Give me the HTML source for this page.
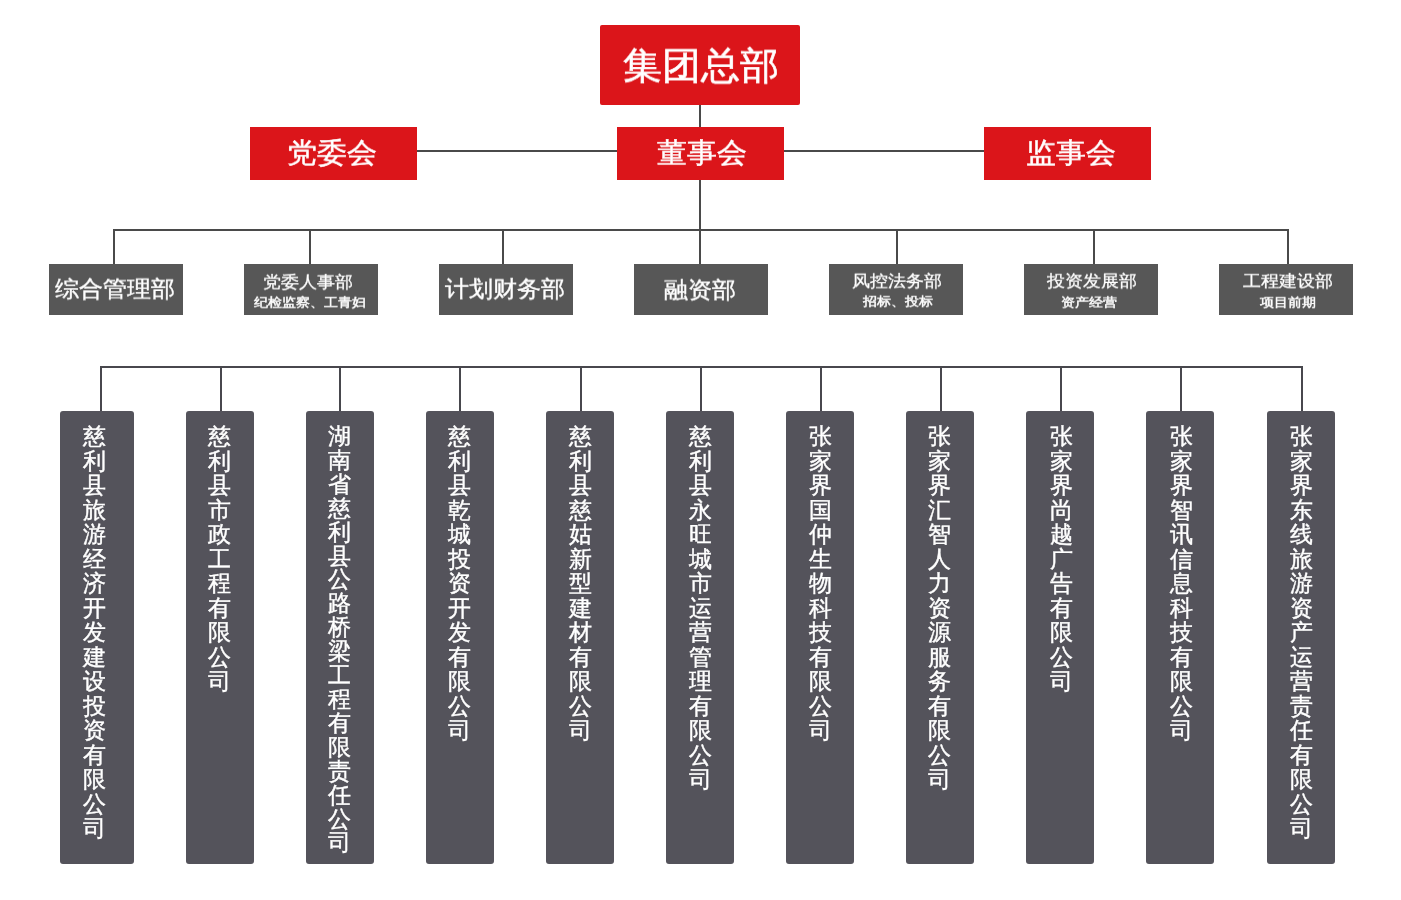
<!DOCTYPE html>
<html><head><meta charset="utf-8"><style>
html,body{margin:0;padding:0;background:#fff;width:1401px;height:900px;overflow:hidden}
body{position:relative;font-family:"Liberation Sans", sans-serif}
</style></head><body>
<div style="position:absolute;left:699px;top:105px;width:2px;height:22px;background:#4a4a4a;"></div>
<div style="position:absolute;left:417px;top:150px;width:200px;height:2px;background:#4a4a4a;"></div>
<div style="position:absolute;left:784px;top:150px;width:200px;height:2px;background:#4a4a4a;"></div>
<div style="position:absolute;left:699px;top:180px;width:2px;height:84px;background:#4a4a4a;"></div>
<div style="position:absolute;left:113px;top:229px;width:1176px;height:2px;background:#4a4a4a;"></div>
<div style="position:absolute;left:113px;top:229px;width:2px;height:35px;background:#4a4a4a;"></div>
<div style="position:absolute;left:309px;top:229px;width:2px;height:35px;background:#4a4a4a;"></div>
<div style="position:absolute;left:502px;top:229px;width:2px;height:35px;background:#4a4a4a;"></div>
<div style="position:absolute;left:896px;top:229px;width:2px;height:35px;background:#4a4a4a;"></div>
<div style="position:absolute;left:1093px;top:229px;width:2px;height:35px;background:#4a4a4a;"></div>
<div style="position:absolute;left:1287px;top:229px;width:2px;height:35px;background:#4a4a4a;"></div>
<div style="position:absolute;left:600px;top:25px;width:200px;height:80px;background:#db151a;border-radius:2px"></div>
<div style="position:absolute;left:250px;top:127px;width:167px;height:53px;background:#db151a;"></div>
<div style="position:absolute;left:617px;top:127px;width:167px;height:53px;background:#db151a;"></div>
<div style="position:absolute;left:984px;top:127px;width:167px;height:53px;background:#db151a;"></div>
<div style="position:absolute;left:49px;top:264px;width:134px;height:51px;background:#575757;"></div>
<div style="position:absolute;left:244px;top:264px;width:134px;height:51px;background:#575757;"></div>
<div style="position:absolute;left:439px;top:264px;width:134px;height:51px;background:#575757;"></div>
<div style="position:absolute;left:634px;top:264px;width:134px;height:51px;background:#575757;"></div>
<div style="position:absolute;left:829px;top:264px;width:134px;height:51px;background:#575757;"></div>
<div style="position:absolute;left:1024px;top:264px;width:134px;height:51px;background:#575757;"></div>
<div style="position:absolute;left:1219px;top:264px;width:134px;height:51px;background:#575757;"></div>
<div style="position:absolute;left:100px;top:366px;width:1203px;height:2px;background:#48474d;"></div>
<div style="position:absolute;left:100px;top:366px;width:2px;height:45px;background:#48474d;"></div>
<div style="position:absolute;left:60px;top:411px;width:74px;height:453px;background:#54535b;border-radius:3px"></div>
<div style="position:absolute;left:220px;top:366px;width:2px;height:45px;background:#48474d;"></div>
<div style="position:absolute;left:186px;top:411px;width:68px;height:453px;background:#54535b;border-radius:3px"></div>
<div style="position:absolute;left:339px;top:366px;width:2px;height:45px;background:#48474d;"></div>
<div style="position:absolute;left:306px;top:411px;width:68px;height:453px;background:#54535b;border-radius:3px"></div>
<div style="position:absolute;left:459px;top:366px;width:2px;height:45px;background:#48474d;"></div>
<div style="position:absolute;left:426px;top:411px;width:68px;height:453px;background:#54535b;border-radius:3px"></div>
<div style="position:absolute;left:580px;top:366px;width:2px;height:45px;background:#48474d;"></div>
<div style="position:absolute;left:546px;top:411px;width:68px;height:453px;background:#54535b;border-radius:3px"></div>
<div style="position:absolute;left:700px;top:366px;width:2px;height:45px;background:#48474d;"></div>
<div style="position:absolute;left:666px;top:411px;width:68px;height:453px;background:#54535b;border-radius:3px"></div>
<div style="position:absolute;left:820px;top:366px;width:2px;height:45px;background:#48474d;"></div>
<div style="position:absolute;left:786px;top:411px;width:68px;height:453px;background:#54535b;border-radius:3px"></div>
<div style="position:absolute;left:940px;top:366px;width:2px;height:45px;background:#48474d;"></div>
<div style="position:absolute;left:906px;top:411px;width:68px;height:453px;background:#54535b;border-radius:3px"></div>
<div style="position:absolute;left:1060px;top:366px;width:2px;height:45px;background:#48474d;"></div>
<div style="position:absolute;left:1026px;top:411px;width:68px;height:453px;background:#54535b;border-radius:3px"></div>
<div style="position:absolute;left:1180px;top:366px;width:2px;height:45px;background:#48474d;"></div>
<div style="position:absolute;left:1146px;top:411px;width:68px;height:453px;background:#54535b;border-radius:3px"></div>
<div style="position:absolute;left:1301px;top:366px;width:2px;height:45px;background:#48474d;"></div>
<div style="position:absolute;left:1267px;top:411px;width:68px;height:453px;background:#54535b;border-radius:3px"></div>
<div style="position:absolute;left:500.78px;top:46.11px;width:400px;height:39.16326516112928px;text-align:center;font-size:39.16px;line-height:39.16px;font-weight:normal;color:#fff;white-space:nowrap;-webkit-text-stroke:0.65px #fff;transform:scaleY(0.9672);transform-origin:50% 50%;will-change:transform">集团总部</div>
<div style="position:absolute;left:131.96px;top:138.16px;width:400px;height:29.5px;text-align:center;font-size:29.50px;line-height:29.50px;font-weight:normal;color:#fff;white-space:nowrap;-webkit-text-stroke:0.50px #fff;transform:scaleY(0.9300);transform-origin:50% 50%;will-change:transform">党委会</div>
<div style="position:absolute;left:501.80px;top:138.15px;width:400px;height:29.5px;text-align:center;font-size:29.50px;line-height:29.50px;font-weight:normal;color:#fff;white-space:nowrap;-webkit-text-stroke:0.50px #fff;transform:scaleY(0.9300);transform-origin:50% 50%;will-change:transform">董事会</div>
<div style="position:absolute;left:870.59px;top:137.96px;width:400px;height:29.5px;text-align:center;font-size:29.50px;line-height:29.50px;font-weight:normal;color:#fff;white-space:nowrap;-webkit-text-stroke:0.50px #fff;transform:scaleY(0.9300);transform-origin:50% 50%;will-change:transform">监事会</div>
<div style="position:absolute;left:-84.65px;top:277.85px;width:400px;height:23.7px;text-align:center;font-size:23.70px;line-height:23.70px;font-weight:normal;color:#fff;white-space:nowrap;-webkit-text-stroke:0.40px #fff;transform:scaleY(0.9500);transform-origin:50% 50%;will-change:transform">综合管理部</div>
<div style="position:absolute;left:304.50px;top:278.26px;width:400px;height:23.7px;text-align:center;font-size:23.70px;line-height:23.70px;font-weight:normal;color:#fff;white-space:nowrap;-webkit-text-stroke:0.40px #fff;transform:scaleY(0.9500);transform-origin:50% 50%;will-change:transform">计划财务部</div>
<div style="position:absolute;left:499.95px;top:278.78px;width:400px;height:23.7px;text-align:center;font-size:23.70px;line-height:23.70px;font-weight:normal;color:#fff;white-space:nowrap;-webkit-text-stroke:0.40px #fff;transform:scaleY(0.9500);transform-origin:50% 50%;will-change:transform">融资部</div>
<div style="position:absolute;left:108.10px;top:274.35px;width:400px;height:17.7px;text-align:center;font-size:17.70px;line-height:17.70px;font-weight:normal;color:#fff;white-space:nowrap;-webkit-text-stroke:0.30px #fff;transform:scaleY(0.9200);transform-origin:50% 50%;will-change:transform">党委人事部</div>
<div style="position:absolute;left:110.35px;top:296.15px;width:400px;height:13.6px;text-align:center;font-size:13.60px;line-height:13.60px;font-weight:normal;color:#fff;white-space:nowrap;-webkit-text-stroke:0.50px #fff;transform:scaleY(0.9000);transform-origin:50% 50%;will-change:transform">纪检监察、工青妇</div>
<div style="position:absolute;left:696.52px;top:272.56px;width:400px;height:17.7px;text-align:center;font-size:17.70px;line-height:17.70px;font-weight:normal;color:#fff;white-space:nowrap;-webkit-text-stroke:0.30px #fff;transform:scaleY(0.9200);transform-origin:50% 50%;will-change:transform">风控法务部</div>
<div style="position:absolute;left:697.50px;top:294.65px;width:400px;height:13.6px;text-align:center;font-size:13.60px;line-height:13.60px;font-weight:normal;color:#fff;white-space:nowrap;-webkit-text-stroke:0.50px #fff;transform:scaleY(0.9000);transform-origin:50% 50%;will-change:transform">招标、投标</div>
<div style="position:absolute;left:891.50px;top:273.25px;width:400px;height:17.7px;text-align:center;font-size:17.70px;line-height:17.70px;font-weight:normal;color:#fff;white-space:nowrap;-webkit-text-stroke:0.30px #fff;transform:scaleY(0.9200);transform-origin:50% 50%;will-change:transform">投资发展部</div>
<div style="position:absolute;left:888.65px;top:296.45px;width:400px;height:13.6px;text-align:center;font-size:13.60px;line-height:13.60px;font-weight:normal;color:#fff;white-space:nowrap;-webkit-text-stroke:0.50px #fff;transform:scaleY(0.9000);transform-origin:50% 50%;will-change:transform">资产经营</div>
<div style="position:absolute;left:1087.50px;top:272.97px;width:400px;height:17.7px;text-align:center;font-size:17.70px;line-height:17.70px;font-weight:normal;color:#fff;white-space:nowrap;-webkit-text-stroke:0.30px #fff;transform:scaleY(0.9200);transform-origin:50% 50%;will-change:transform">工程建设部</div>
<div style="position:absolute;left:1088.26px;top:296.20px;width:400px;height:13.6px;text-align:center;font-size:13.60px;line-height:13.60px;font-weight:normal;color:#fff;white-space:nowrap;-webkit-text-stroke:0.50px #fff;transform:scaleY(0.9000);transform-origin:50% 50%;will-change:transform">项目前期</div>
<div style="position:absolute;left:79.2px;top:424.25px;width:30px;text-align:center;font-size:23px;line-height:24.5px;color:#fff;-webkit-text-stroke:0.4px #fff;will-change:transform">慈<br>利<br>县<br>旅<br>游<br>经<br>济<br>开<br>发<br>建<br>设<br>投<br>资<br>有<br>限<br>公<br>司</div>
<div style="position:absolute;left:204.2px;top:424.25px;width:30px;text-align:center;font-size:23px;line-height:24.5px;color:#fff;-webkit-text-stroke:0.4px #fff;will-change:transform">慈<br>利<br>县<br>市<br>政<br>工<br>程<br>有<br>限<br>公<br>司</div>
<div style="position:absolute;left:324.2px;top:424.55px;width:30px;text-align:center;font-size:23px;line-height:23.9px;color:#fff;-webkit-text-stroke:0.4px #fff;will-change:transform">湖<br>南<br>省<br>慈<br>利<br>县<br>公<br>路<br>桥<br>梁<br>工<br>程<br>有<br>限<br>责<br>任<br>公<br>司</div>
<div style="position:absolute;left:444.0px;top:424.25px;width:30px;text-align:center;font-size:23px;line-height:24.5px;color:#fff;-webkit-text-stroke:0.4px #fff;will-change:transform">慈<br>利<br>县<br>乾<br>城<br>投<br>资<br>开<br>发<br>有<br>限<br>公<br>司</div>
<div style="position:absolute;left:565.1px;top:424.25px;width:30px;text-align:center;font-size:23px;line-height:24.5px;color:#fff;-webkit-text-stroke:0.4px #fff;will-change:transform">慈<br>利<br>县<br>慈<br>姑<br>新<br>型<br>建<br>材<br>有<br>限<br>公<br>司</div>
<div style="position:absolute;left:685.1px;top:424.25px;width:30px;text-align:center;font-size:23px;line-height:24.5px;color:#fff;-webkit-text-stroke:0.4px #fff;will-change:transform">慈<br>利<br>县<br>永<br>旺<br>城<br>市<br>运<br>营<br>管<br>理<br>有<br>限<br>公<br>司</div>
<div style="position:absolute;left:805.2px;top:424.25px;width:30px;text-align:center;font-size:23px;line-height:24.5px;color:#fff;-webkit-text-stroke:0.4px #fff;will-change:transform">张<br>家<br>界<br>国<br>仲<br>生<br>物<br>科<br>技<br>有<br>限<br>公<br>司</div>
<div style="position:absolute;left:924.2px;top:424.25px;width:30px;text-align:center;font-size:23px;line-height:24.5px;color:#fff;-webkit-text-stroke:0.4px #fff;will-change:transform">张<br>家<br>界<br>汇<br>智<br>人<br>力<br>资<br>源<br>服<br>务<br>有<br>限<br>公<br>司</div>
<div style="position:absolute;left:1046.2px;top:424.25px;width:30px;text-align:center;font-size:23px;line-height:24.5px;color:#fff;-webkit-text-stroke:0.4px #fff;will-change:transform">张<br>家<br>界<br>尚<br>越<br>广<br>告<br>有<br>限<br>公<br>司</div>
<div style="position:absolute;left:1166.1px;top:424.25px;width:30px;text-align:center;font-size:23px;line-height:24.5px;color:#fff;-webkit-text-stroke:0.4px #fff;will-change:transform">张<br>家<br>界<br>智<br>讯<br>信<br>息<br>科<br>技<br>有<br>限<br>公<br>司</div>
<div style="position:absolute;left:1286.0px;top:424.25px;width:30px;text-align:center;font-size:23px;line-height:24.5px;color:#fff;-webkit-text-stroke:0.4px #fff;will-change:transform">张<br>家<br>界<br>东<br>线<br>旅<br>游<br>资<br>产<br>运<br>营<br>责<br>任<br>有<br>限<br>公<br>司</div>
</body></html>
